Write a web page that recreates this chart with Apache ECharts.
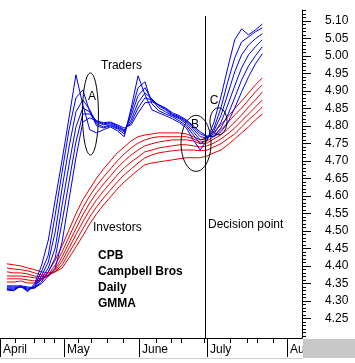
<!DOCTYPE html>
<html><head><meta charset="utf-8">
<script src="https://cdn.jsdelivr.net/npm/echarts@6/dist/echarts.min.js"></script>
<style>html,body{margin:0;padding:0;background:#fff}#c{width:355px;height:363px}</style>
</head><body><div id="c"></div>
<script>
// trading-day index of each sample
const days = [2,4,6,8,10,12,14,16,18,20,22,24,26,28,30,32,34,36,38,40,42,44,46,48,50,52,54,56,58,60,62,64,66,68,70,72,74,76];

// Traders (short-term GMMA, fastest first)
const trader1 = [4.331,4.329,4.343,4.326,4.349,4.400,4.474,4.589,4.703,4.823,4.946,4.860,4.789,4.780,4.789,4.797,4.786,4.769,4.851,4.943,4.889,4.846,4.837,4.829,4.820,4.809,4.794,4.760,4.731,4.760,4.811,4.883,4.966,5.046,5.077,5.060,5.074,5.091];
const trader2 = [4.334,4.331,4.343,4.329,4.343,4.383,4.431,4.546,4.669,4.789,4.880,4.903,4.840,4.800,4.794,4.800,4.791,4.777,4.840,4.909,4.926,4.863,4.843,4.834,4.826,4.814,4.800,4.774,4.749,4.760,4.794,4.851,4.926,4.994,5.040,5.054,5.069,5.080];
const trader3 = [4.334,4.334,4.340,4.331,4.340,4.371,4.411,4.497,4.623,4.740,4.840,4.874,4.846,4.806,4.797,4.803,4.794,4.783,4.829,4.886,4.909,4.874,4.851,4.840,4.829,4.820,4.806,4.783,4.760,4.763,4.786,4.829,4.891,4.954,5.003,5.031,5.049,5.063];
const trader4 = [4.337,4.337,4.340,4.334,4.337,4.363,4.394,4.451,4.574,4.689,4.797,4.851,4.840,4.811,4.803,4.806,4.797,4.786,4.817,4.866,4.894,4.877,4.857,4.846,4.831,4.823,4.811,4.791,4.769,4.766,4.777,4.809,4.860,4.914,4.966,5.003,5.026,5.046];
const trader5 = [4.340,4.340,4.340,4.337,4.337,4.354,4.383,4.423,4.526,4.640,4.754,4.834,4.834,4.814,4.806,4.809,4.800,4.789,4.809,4.851,4.880,4.874,4.860,4.849,4.834,4.826,4.814,4.797,4.777,4.769,4.771,4.794,4.831,4.880,4.931,4.971,5.000,5.026];
const trader6 = [4.343,4.343,4.343,4.340,4.337,4.349,4.371,4.394,4.469,4.589,4.709,4.811,4.823,4.814,4.809,4.811,4.803,4.794,4.803,4.837,4.866,4.869,4.860,4.851,4.837,4.829,4.817,4.800,4.783,4.771,4.769,4.783,4.809,4.851,4.897,4.940,4.977,5.006];

// Investors (long-term GMMA, fastest first)
const investor1 = [4.354,4.354,4.357,4.351,4.351,4.360,4.383,4.417,4.457,4.503,4.549,4.589,4.620,4.651,4.677,4.700,4.723,4.740,4.757,4.769,4.774,4.777,4.780,4.780,4.780,4.780,4.777,4.769,4.760,4.766,4.783,4.803,4.826,4.849,4.871,4.894,4.917,4.937];
const investor2 = [4.363,4.363,4.363,4.360,4.357,4.360,4.374,4.403,4.440,4.483,4.526,4.566,4.600,4.629,4.654,4.677,4.700,4.720,4.737,4.751,4.760,4.766,4.769,4.769,4.769,4.769,4.769,4.763,4.754,4.757,4.771,4.789,4.809,4.831,4.851,4.874,4.897,4.917];
const investor3 = [4.371,4.371,4.371,4.369,4.366,4.363,4.371,4.391,4.426,4.466,4.506,4.546,4.580,4.609,4.634,4.657,4.680,4.700,4.717,4.731,4.743,4.749,4.754,4.757,4.760,4.760,4.760,4.757,4.749,4.751,4.763,4.774,4.791,4.811,4.831,4.854,4.874,4.897];
const investor4 = [4.383,4.380,4.380,4.377,4.371,4.369,4.371,4.386,4.414,4.451,4.489,4.526,4.560,4.589,4.614,4.637,4.660,4.680,4.697,4.711,4.726,4.731,4.737,4.740,4.743,4.746,4.746,4.743,4.740,4.743,4.751,4.763,4.777,4.794,4.814,4.834,4.854,4.874];
const investor5 = [4.394,4.391,4.389,4.386,4.380,4.374,4.374,4.383,4.403,4.437,4.471,4.506,4.540,4.569,4.594,4.617,4.640,4.660,4.677,4.694,4.709,4.717,4.723,4.726,4.729,4.731,4.731,4.731,4.729,4.731,4.740,4.749,4.763,4.777,4.797,4.817,4.834,4.854];
const investor6 = [4.406,4.403,4.400,4.394,4.389,4.383,4.380,4.383,4.394,4.423,4.454,4.486,4.520,4.549,4.574,4.597,4.620,4.640,4.657,4.674,4.689,4.694,4.697,4.700,4.703,4.706,4.709,4.709,4.709,4.714,4.723,4.731,4.746,4.763,4.780,4.797,4.817,4.834];

// axis definitions
const monthStarts = [0, 18.54, 40.27, 59.98, 83.15];
const monthNames = ['April', 'May', 'June', 'July', 'Au'];
const weekTicks = [4.35, 9.85, 12.75, 15.65, 22.6, 26.37, 31.0, 35.64, 45.2, 49.55, 52.44, 59.1, 66.64, 71.56, 74.46, 79.1];
const priceLabels = [4.25,4.30,4.35,4.40,4.45,4.50,4.55,4.60,4.65,4.70,4.75,4.80,4.85,4.90,4.95,5.00,5.05,5.10];
const decisionDay = 59.4;

const minorTicks = [];
for (let k = 420; k <= 513; k++) minorTicks.push(k / 100);

const FONT = "'Liberation Sans', Arial, sans-serif";
const BLUE = '#0000f0';
const RED = '#e80000';

function mk(arr, color, extra) {
  return Object.assign({
    type: 'line', xAxisIndex: 0, yAxisIndex: 1, data: days.map((d, i) => [d, arr[i]]),
    symbol: 'none', showSymbol: false, silent: true,
    lineStyle: { color: color, width: 1 }, itemStyle: { color: color },
    z: 2
  }, extra || {});
}

const series = [
  mk(investor6, RED), mk(investor5, RED), mk(investor4, RED),
  mk(investor3, RED), mk(investor2, RED), mk(investor1, RED, {
    markLine: {
      silent: true, symbol: ['none', 'none'], label: { show: false },
      lineStyle: { color: '#000', width: 1, type: 'solid' },
      data: [[{ coord: [decisionDay, 5.114] }, { coord: [decisionDay, 4.194] }]]
    }
  }),
  mk(trader6, BLUE), mk(trader5, BLUE), mk(trader4, BLUE),
  mk(trader3, BLUE), mk(trader2, BLUE), mk(trader1, BLUE)
];

const chart = echarts.init(document.getElementById('c'), null, { renderer: 'canvas' });
const axLine = { show: true, onZero: false, lineStyle: { color: '#000', width: 1 } };
const noLine = { show: false, onZero: false };
chart.setOption({
  animation: false,
  backgroundColor: '#fff',
  grid: { left: 0, right: 53, top: 10, bottom: 25, containLabel: false },
  xAxis: [
    { type: 'value', min: 0, max: 87.5, position: 'bottom', axisLine: axLine,
      splitLine: { show: false },
      axisTick: { show: true, customValues: weekTicks, length: 5, lineStyle: { color: '#000' } },
      axisLabel: { show: false } },
    { type: 'value', min: 0, max: 87.5, position: 'bottom', offset: 0,
      axisLine: noLine, splitLine: { show: false },
      axisTick: { show: true, customValues: monthStarts, length: 19, lineStyle: { color: '#000' } },
      axisLabel: { show: true, customValues: monthStarts, margin: 6, align: 'left',
        padding: [0, 0, 0, 3], color: '#000', fontSize: 12, fontFamily: FONT,
        formatter: v => { const i = monthStarts.findIndex(m => Math.abs(m - v) < 1e-6); return i >= 0 ? monthNames[i] : ''; } } }
  ],
  yAxis: [
    { type: 'value', min: 4.194, max: 5.131, position: 'right', offset: 0, axisLine: axLine,
      splitLine: { show: false },
      axisTick: { show: true, customValues: minorTicks, length: 4, lineStyle: { color: '#000' } },
      axisLabel: { show: false } },
    { type: 'value', min: 4.194, max: 5.131, position: 'right', offset: 0,
      axisLine: noLine, splitLine: { show: false },
      axisTick: { show: true, customValues: priceLabels, length: 9, lineStyle: { color: '#000' } },
      axisLabel: { show: true, customValues: priceLabels, margin: 23, align: 'left',
        color: '#000', fontSize: 12, fontFamily: FONT, formatter: v => v.toFixed(2) } }
  ],
  series: series
});

// annotations positioned from data coordinates
const ellipses = [
  { day: 26.2, price: 4.834, rx: 8, ry: 41 },
  { day: 56.8, price: 4.750, rx: 15, ry: 28 },
  { day: 63.3, price: 4.813, rx: 8.5, ry: 13.5 }
];
const gfx = ellipses.map(e => {
  const p = chart.convertToPixel({ xAxisIndex: 0, yAxisIndex: 1 }, [e.day, e.price]);
  return { type: 'ellipse', shape: { cx: p[0], cy: p[1], rx: e.rx, ry: e.ry },
    style: { fill: 'none', stroke: '#000', lineWidth: 1 }, z: 10, silent: true };
});
function txt(s, x, y, bold, align) {
  return { type: 'text', x: x, y: y, z: 11, silent: true,
    style: { text: s, fill: '#000', font: (bold ? 'bold ' : '') + '12px ' + FONT,
      textAlign: align || 'left', textVerticalAlign: 'middle' } };
}
gfx.push(
  txt('Traders', 101, 66), txt('Investors', 93, 228), txt('Decision point', 208, 225),
  txt('A', 92, 97, false, 'center'), txt('B', 195, 125, false, 'center'), txt('C', 214, 101, false, 'center'),
  txt('CPB', 98, 256, true), txt('Campbell Bros', 98, 272, true), txt('Daily', 98, 288, true), txt('GMMA', 98, 304, true),
  { type: 'rect', shape: { x: 303, y: 339, width: 52, height: 19 }, style: { fill: '#c8c8c8' }, z: 12, silent: true },
  { type: 'rect', shape: { x: 0, y: 358, width: 303, height: 1 }, style: { fill: '#d0d0d0' }, z: 12, silent: true }
);
chart.setOption({ graphic: gfx });
</script>
</body></html>
